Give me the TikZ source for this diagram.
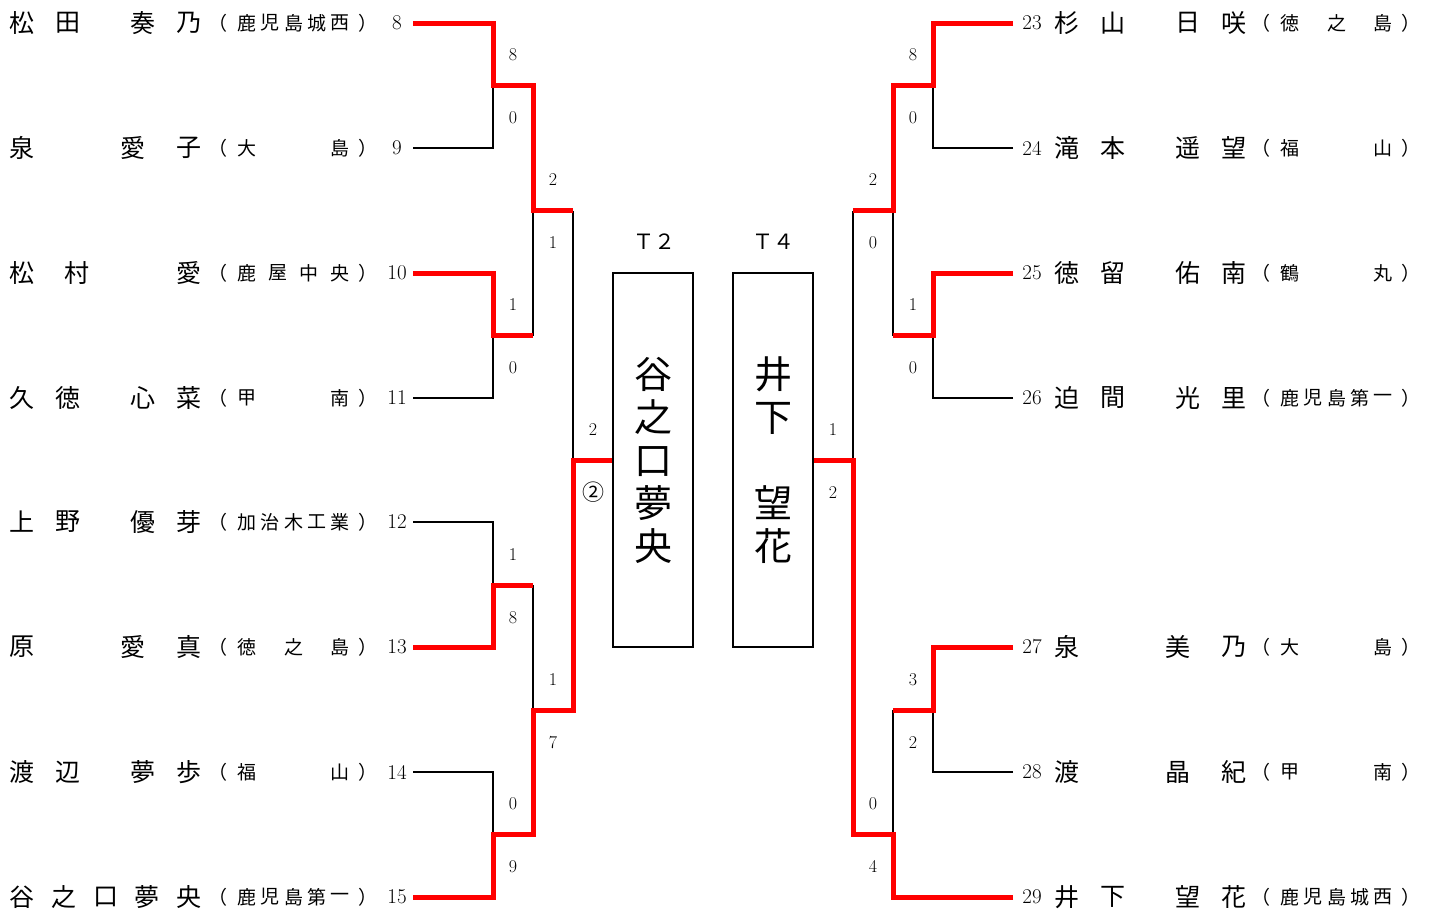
\documentclass[tikz,border=0pt]{standalone}
\usepackage{fontspec}
\usepackage{tikz}
\newfontfamily\jp{Noto Sans CJK JP}

\tikzset{
  nm/.style={font=\jp\fontsize{25}{25}\selectfont, inner sep=0pt},
  sch/.style={font=\jp\fontsize{19}{19}\selectfont, inner sep=0pt},
  num/.style={font=\fontsize{21}{21}\selectfont, inner sep=0pt},
  sc/.style={font=\fontsize{18}{18}\selectfont, inner sep=0pt},
  tlab/.style={font=\jp\fontsize{21}{21}\selectfont, inner sep=0pt},
  tbox/.style={draw, line width=2pt, minimum width=80pt, minimum height=374pt,
    inner sep=0pt, align=center, font=\jp\fontsize{38}{43}\selectfont},
  lose/.style={line width=2pt},
  win/.style={draw=red, line width=5pt}
}

% id, y, name chars (offset/char), school step, school chars
\newcommand{\player}[5]{%
  \foreach \dx/\ch [count=\i] in {#3} \node[nm] (#1n\i) at (\nx+\dx,#2) {\ch};
  \node[sch] (#1l) at (\sx-29,#2) {（};
  \foreach \ch [count=\i] in {#5} \node[sch] (#1s\i) at (\sx+#4*\i-#4,#2) {\ch};
  \node[sch] (#1r) at (\sx+121,#2) {）};
  \node[num] (#1) at (\kx,#2) {#1};
}
\newcommand{\circtwo}{{\jp\fontsize{22}{22}\selectfont ②}}

\begin{document}
\begin{tikzpicture}[x=1pt, y=-1pt]
\useasboundingbox (0,0) rectangle (1432,913);

% left block
\def\nx{22}\def\sx{247}\def\kx{397}
\player{8}{23}{0/松,46/田,121/奏,167/乃}{23.25}{鹿,児,島,城,西}
\player{9}{148}{0/泉,111/愛,167/子}{93}{大,島}
\player{10}{273}{0/松,55/村,167/愛}{31}{鹿,屋,中,央}
\player{11}{398}{0/久,46/徳,121/心,167/菜}{93}{甲,南}
\player{12}{522}{0/上,46/野,121/優,167/芽}{23.25}{加,治,木,工,業}
\player{13}{647}{0/原,111/愛,167/真}{46.5}{徳,之,島}
\player{14}{772}{0/渡,46/辺,121/夢,167/歩}{93}{福,山}
\player{15}{897}{0/谷,41.75/之,83.5/口,125.25/夢,167/央}{23.25}{鹿,児,島,第,一}

% right block
\def\nx{1067}\def\sx{1290}\def\kx{1032}
\player{23}{23}{0/杉,46/山,121/日,167/咲}{46.5}{徳,之,島}
\player{24}{148}{0/滝,46/本,121/遥,167/望}{93}{福,山}
\player{25}{273}{0/徳,46/留,121/佑,167/南}{93}{鶴,丸}
\player{26}{398}{0/迫,46/間,121/光,167/里}{23.25}{鹿,児,島,第,一}
\player{27}{647}{0/泉,111/美,167/乃}{93}{大,島}
\player{28}{772}{0/渡,111/晶,167/紀}{93}{甲,南}
\player{29}{897}{0/井,46/下,121/望,167/花}{23.25}{鹿,児,島,城,西}

% finalists
\node[tlab] (t2l) at (654,242) {Ｔ２};
\node[tlab] (t4l) at (773,242) {Ｔ４};
\node[tbox] (t2) at (653,460) {谷\\之\\口\\夢\\央};
\node[tbox] (t4) at (773,460) {井\\下\\　\\望\\花};

% bracket points
\foreach \k/\y in {8/23,9/148,10/273,11/398,12/522,13/647,14/772,15/897}
  \coordinate (e\k) at (413,\y);
\foreach \k/\y in {23/23,24/148,25/273,26/398,27/647,28/772,29/897}
  \coordinate (e\k) at (1013,\y);
\coordinate (L1) at (493,85.5);  \coordinate (L2) at (493,335.5);
\coordinate (L3) at (493,585);   \coordinate (L4) at (493,834.5);
\coordinate (L5) at (533,210.5); \coordinate (L6) at (533,710);
\coordinate (L7) at (573,460);
\coordinate (R1) at (933,85.5);  \coordinate (R2) at (933,335.5);
\coordinate (R3) at (933,710);   \coordinate (R4) at (893,210.5);
\coordinate (R5) at (893,834);   \coordinate (R6) at (853,460);

% losers
\draw[lose] (e9) -| (L1);  \draw[lose] (e11) -| (L2);
\draw[lose] (e12) -| (L3); \draw[lose] (e14) -| (L4);
\draw[lose] (L2 -| L5) -- (L5);
\draw[lose] (L3 -| L6) -- (L6);
\draw[lose] (L5 -| L7) -- (L7);
\draw[lose] (e24) -| (R1); \draw[lose] (e26) -| (R2);
\draw[lose] (e28) -| (R3);
\draw[lose] (R2 -| R4) -- (R4);
\draw[lose] (R3 -| R5) -- (R5);
\draw[lose] (R4 -| R6) -- (R6);

% winners
\draw[win] (e8) -| (L1) -- (L1 -| L5) -- (L5) -- (L5 -| L7);
\draw[win] (e10) -| (L2) -- (L2 -| L5);
\draw[win] (e13) -| (L3) -- (L3 -| L6);
\draw[win] (e15) -| (L4) -- (L4 -| L6) -- (L6) -- (L6 -| L7) -- (L7) -- (t2.west);
\draw[win] (e23) -| (R1) -- (R1 -| R4) -- (R4) -- (R4 -| R6);
\draw[win] (e25) -| (R2) -- (R2 -| R4);
\draw[win] (e27) -| (R3) -- (R3 -| R5);
\draw[win] (e29) -| (R5) -- (R5 -| R6) -- (R6) -- (t4.east);

% scores
\foreach \x/\y/\a/\b [count=\k] in {513/85.5/8/0, 513/335.5/1/0, 513/585/1/8,
    513/834.5/0/9, 553/210.5/2/1, 553/710/1/7, 593/460/2/\circtwo,
    913/85.5/8/0, 913/335.5/1/0, 913/710/3/2, 873/210.5/2/0, 873/834/0/4,
    833/460/1/2}
  {\node[sc] (sa\k) at (\x,\y-30.5) {\a};
   \node[sc] (sb\k) at (\x,\y+32.5) {\b};}

\end{tikzpicture}
\end{document}
